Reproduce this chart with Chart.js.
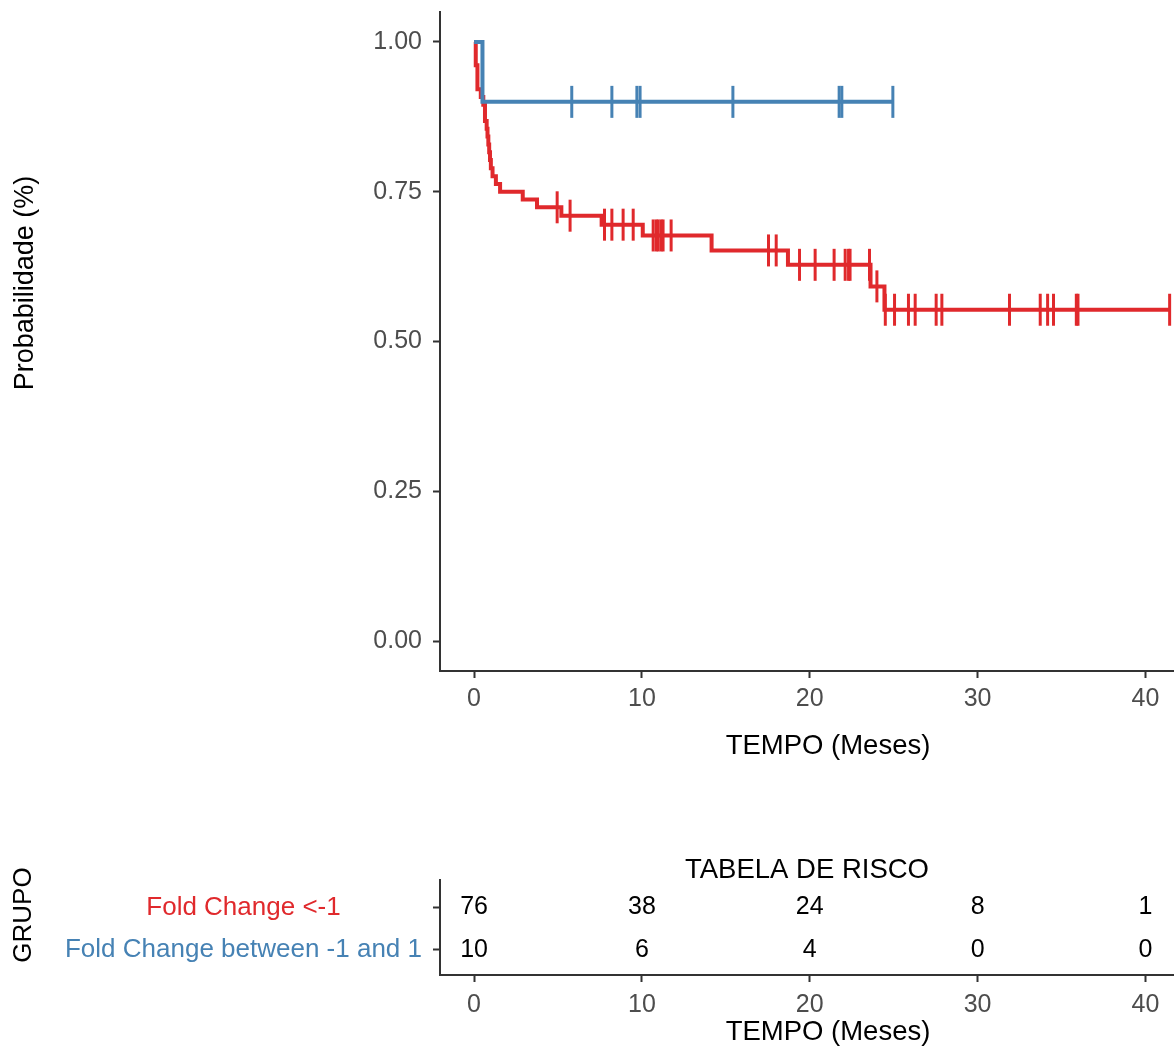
<!DOCTYPE html>
<html>
<head>
<meta charset="utf-8">
<script src="https://cdn.jsdelivr.net/npm/chart.js@4.4.0/dist/chart.umd.min.js"></script>
<style>
  html, body { margin: 0; padding: 0; background: #fff; }
  #wrap { position: relative; width: 1174px; height: 1050px; }
  #kmChart { position: absolute; left: 0; top: 0; }
  #riskChart { position: absolute; left: 0; top: 780px; }
</style>
</head>
<body>
<div id="wrap">
  <canvas id="kmChart" width="1174" height="780"></canvas>
  <canvas id="riskChart" width="1174" height="270"></canvas>
</div>
<script>
const FONT = "'Liberation Sans', Arial, sans-serif";

const groupNames = ['Fold Change <-1', 'Fold Change between -1 and 1'];
const groupColors = ['#E0292C', '#4682B4'];

// Kaplan-Meier steps, time in months
const redTimes = [0, 0.1, 0.2, 0.4, 0.55, 0.65, 0.75, 0.8, 0.85, 0.9, 0.95, 1.0, 1.1, 1.3, 1.55, 2.9, 3.75, 5.2, 7.6, 10.05, 14.15, 18.7, 23.62, 24.45, 41.44];
const redSurv = [1, 0.961, 0.921, 0.908, 0.895, 0.868, 0.855, 0.842, 0.829, 0.816, 0.803, 0.789, 0.776, 0.763, 0.75, 0.737, 0.724, 0.71, 0.695, 0.677, 0.652, 0.628, 0.592, 0.553, 0.553];
const redCensor = [4.95, 5.72, 7.77, 8.21, 8.88, 9.48, 10.67, 10.85, 10.97, 11.14, 11.26, 11.74, 17.54, 18.0, 19.39, 20.32, 21.45, 22.11, 22.31, 22.4, 23.56, 24.0, 24.5, 25.05, 25.88, 26.28, 27.53, 27.87, 31.9, 33.73, 34.17, 34.52, 35.88, 35.98, 41.44];

const blueTimes = [0, 0.5, 24.95];
const blueSurv = [1, 0.9, 0.9];
const blueCensor = [5.82, 8.21, 9.7, 9.89, 15.42, 21.75, 21.91, 24.95];

// risk table
const riskTimes = [0, 10, 20, 30, 40];
const riskRed = [76, 38, 24, 8, 1];
const riskBlue = [10, 6, 4, 0, 0];

const xTicks = [0, 10, 20, 30, 40];
const yTicks = [0, 0.25, 0.5, 0.75, 1];

const axisColor = '#333333';
const tickGrey = '#4D4D4D';

Chart.defaults.font.family = FONT;

function survAt(times, surv, t) {
  let s = surv[0];
  for (let i = 0; i < times.length; i++) if (times[i] <= t) s = surv[i];
  return s;
}

const stepLine = (times, surv, color, order) => ({
  type: 'line',
  data: times.map((t, i) => ({ x: t, y: surv[i] })),
  borderColor: color,
  borderWidth: 4,
  stepped: 'before',
  pointRadius: 0,
  fill: false,
  order: order
});

const censorMarks = (times, stepT, stepS, color, order) => ({
  type: 'scatter',
  data: times.map(t => ({ x: t, y: survAt(stepT, stepS, t) })),
  pointStyle: 'line',
  rotation: 90,
  pointRadius: 16,
  borderColor: color,
  borderWidth: 3,
  showLine: false,
  order: order
});

const noPadX = s => { s.paddingLeft = 0; s.paddingRight = 0; };
const noPadY = s => { s.paddingTop = 0; s.paddingBottom = 0; };

function xTitle(chart, y) {
  const ctx = chart.ctx;
  ctx.save();
  ctx.font = '27.5px ' + FONT;
  ctx.fillStyle = '#000';
  ctx.textAlign = 'center';
  ctx.textBaseline = 'middle';
  ctx.fillText('TEMPO (Meses)', 828, y);
  ctx.restore();
}

const kmTexts = {
  id: 'kmTexts',
  afterDraw(chart) {
    const ctx = chart.ctx;
    xTitle(chart, 746);
    ctx.save();
    ctx.translate(26, 283);
    ctx.rotate(-Math.PI / 2);
    ctx.font = '27px ' + FONT;
    ctx.fillStyle = '#000';
    ctx.textAlign = 'center';
    ctx.textBaseline = 'middle';
    ctx.fillText('Probabilidade (%)', 0, 0);
    ctx.restore();
  }
};

new Chart(document.getElementById('kmChart'), {
  type: 'line',
  data: {
    datasets: [
      stepLine(blueTimes, blueSurv, groupColors[1], 0),
      censorMarks(blueCensor, blueTimes, blueSurv, groupColors[1], 1),
      stepLine(redTimes, redSurv, groupColors[0], 2),
      censorMarks(redCensor, redTimes, redSurv, groupColors[0], 3)
    ]
  },
  options: {
    responsive: false,
    animation: false,
    events: [],
    layout: { autoPadding: false, padding: { top: 12, bottom: 9, left: 0, right: 0 } },
    plugins: { legend: { display: false }, tooltip: { enabled: false } },
    scales: {
      x: {
        type: 'linear',
        min: -2.03,
        max: 41.7,
        afterBuildTicks: s => { s.ticks = xTicks.map(v => ({ value: v })); },
        afterFit: s => { s.height = 100; noPadX(s); },
        ticks: { font: { size: 25 }, color: tickGrey, padding: 6, maxRotation: 0 },
        grid: { drawOnChartArea: false, drawTicks: true, tickLength: 7, tickColor: axisColor, tickWidth: 2 },
        border: { color: axisColor, width: 2 }
      },
      y: {
        type: 'linear',
        min: -0.05,
        max: 1.05,
        afterBuildTicks: s => { s.ticks = yTicks.map(v => ({ value: v })); },
        afterFit: s => { s.width = 440; noPadY(s); },
        ticks: { font: { size: 25 }, color: tickGrey, padding: 11, callback: v => v.toFixed(2) },
        grid: { drawOnChartArea: false, drawTicks: true, tickLength: 7, tickColor: axisColor, tickWidth: 2 },
        border: { color: axisColor, width: 2 }
      }
    }
  },
  plugins: [kmTexts]
});

const riskTexts = {
  id: 'riskTexts',
  afterDatasetsDraw(chart) {
    const ctx = chart.ctx;
    const area = chart.chartArea;
    ctx.save();
    ctx.fillStyle = '#000';
    ctx.textAlign = 'center';
    ctx.textBaseline = 'middle';
    ctx.font = '25px ' + FONT;
    chart.data.datasets.forEach((ds, di) => {
      chart.getDatasetMeta(di).data.forEach((pt, i) => {
        ctx.fillText(String(ds.counts[i]), pt.x, pt.y);
      });
    });
    ctx.font = '27.5px ' + FONT;
    ctx.fillText('TABELA DE RISCO', (area.left + area.right) / 2, area.top - 10);
    ctx.translate(24, 135);
    ctx.rotate(-Math.PI / 2);
    ctx.font = '26px ' + FONT;
    ctx.fillText('GRUPO', 0, 0);
    ctx.restore();
    xTitle(chart, 252);
  }
};

new Chart(document.getElementById('riskChart'), {
  type: 'scatter',
  data: {
    datasets: [
      { data: riskTimes.map(t => ({ x: t, y: 1 })), counts: riskRed, pointRadius: 0 },
      { data: riskTimes.map(t => ({ x: t, y: 2 })), counts: riskBlue, pointRadius: 0 }
    ]
  },
  options: {
    responsive: false,
    animation: false,
    events: [],
    layout: { autoPadding: false, padding: { top: 100, bottom: 0, left: 0, right: 0 } },
    plugins: { legend: { display: false }, tooltip: { enabled: false } },
    scales: {
      x: {
        type: 'linear',
        min: -2.03,
        max: 41.7,
        afterBuildTicks: s => { s.ticks = xTicks.map(v => ({ value: v })); },
        afterFit: s => { s.height = 75; noPadX(s); },
        ticks: { font: { size: 25 }, color: tickGrey, padding: 8, maxRotation: 0 },
        grid: { drawOnChartArea: false, drawTicks: true, tickLength: 7, tickColor: axisColor, tickWidth: 2 },
        border: { color: axisColor, width: 2 }
      },
      y: {
        type: 'linear',
        min: 0.35,
        max: 2.6,
        reverse: true,
        afterBuildTicks: s => { s.ticks = [1, 2].map(v => ({ value: v })); },
        afterFit: s => { s.width = 440; noPadY(s); },
        ticks: {
          font: { size: 26 },
          color: c => groupColors[c.index],
          padding: 11,
          crossAlign: 'center',
          callback: v => groupNames[v - 1]
        },
        grid: { drawOnChartArea: false, drawTicks: true, tickLength: 7, tickColor: axisColor, tickWidth: 2 },
        border: { color: axisColor, width: 2 }
      }
    }
  },
  plugins: [riskTexts]
});
</script>
</body>
</html>
